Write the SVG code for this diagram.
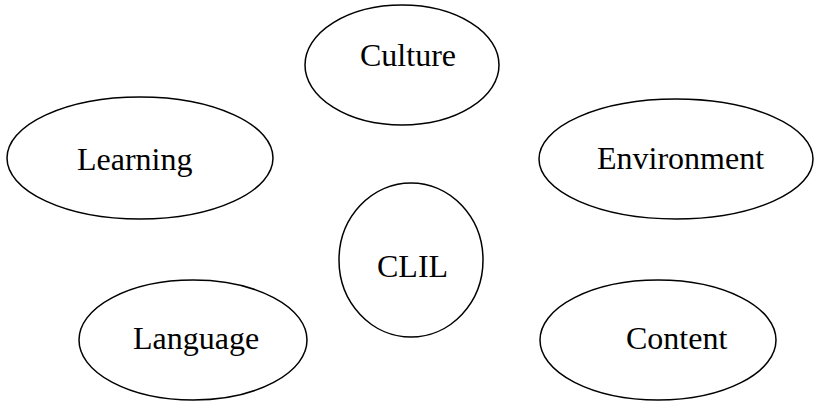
<svg xmlns="http://www.w3.org/2000/svg" width="814" height="401" viewBox="0 0 814 401">
<style>
.n ellipse{fill:#fff;stroke:#000;stroke-width:1.5}
.n text{font-family:"Liberation Serif","Times New Roman",serif;font-size:32px;fill:#000}
</style>
<rect width="814" height="401" fill="#fff"/>
<g id="connectors"></g>
<g id="culture" class="n"><ellipse cx="402" cy="65" rx="97" ry="60"/><text x="360" y="66">Culture</text></g>
<g id="learning" class="n"><ellipse cx="140" cy="158" rx="133" ry="61"/><text x="77" y="170">Learning</text></g>
<g id="environment" class="n"><ellipse cx="676" cy="159" rx="137" ry="60"/><text x="597" y="169">Environment</text></g>
<g id="clil" class="n"><ellipse cx="411" cy="260" rx="72" ry="77"/><text x="377" y="277">CLIL</text></g>
<g id="language" class="n"><ellipse cx="193" cy="340" rx="114" ry="60"/><text x="133" y="349">Language</text></g>
<g id="content" class="n"><ellipse cx="658" cy="340" rx="118" ry="60"/><text x="626" y="349">Content</text></g>
</svg>
